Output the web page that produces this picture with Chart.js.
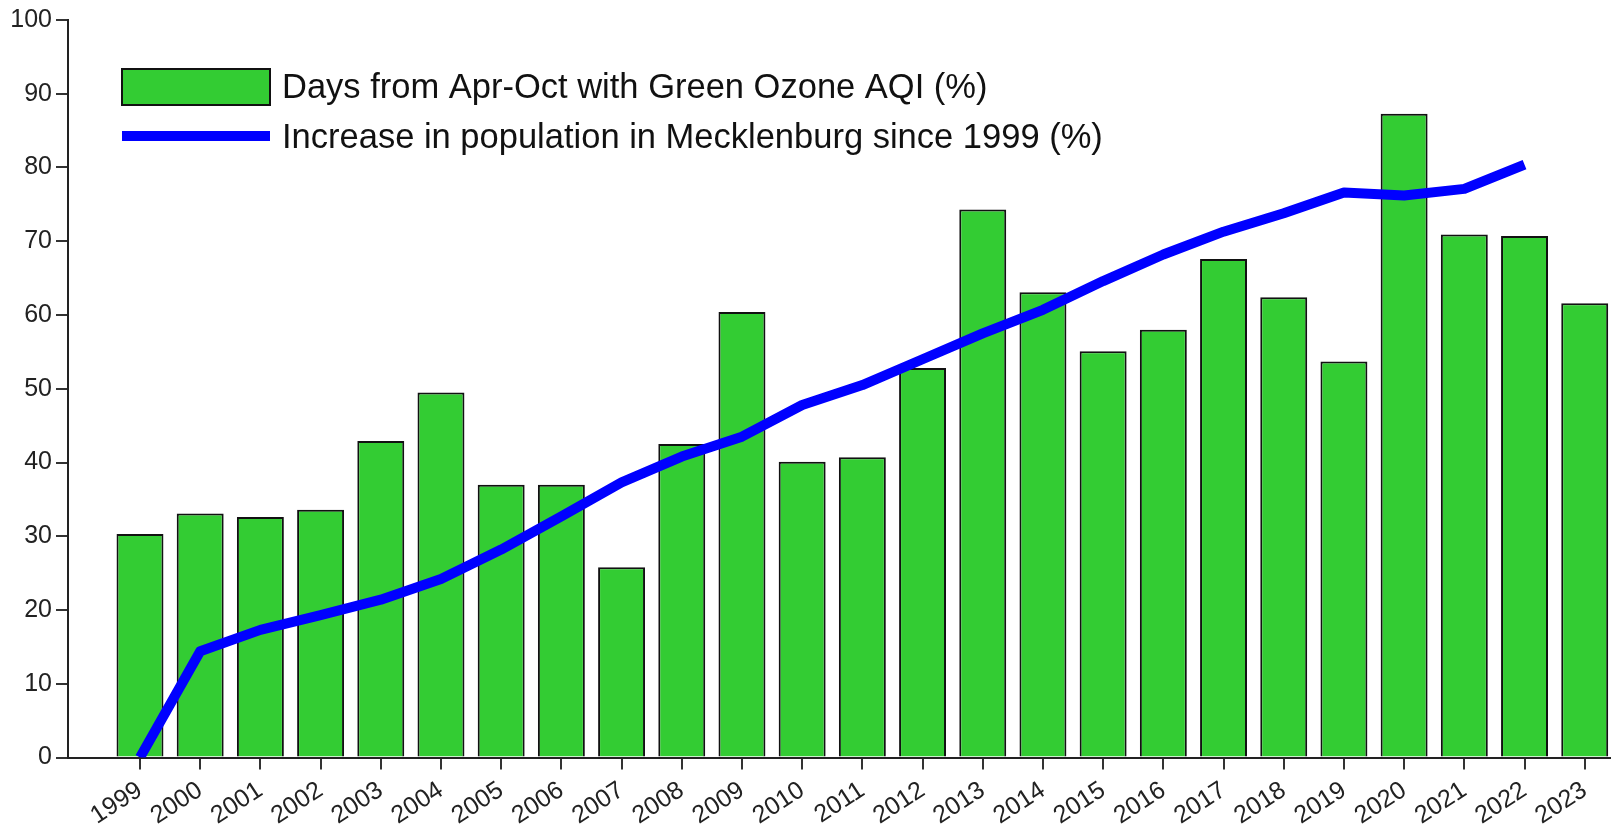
<!doctype html>
<html lang="en">
<head>
  <meta charset="utf-8">
  <title>Green Ozone AQI days vs. Mecklenburg population</title>
  <style>
    html, body { margin: 0; padding: 0; background: #fff; }
    #wrap { width: 1618px; height: 825px; }
  </style>
</head>
<body>
  <div id="wrap"><canvas id="chart"></canvas></div>

  <script src="https://cdn.jsdelivr.net/npm/chart.js"></script>
  <script>
    const years = [1999, 2000, 2001, 2002, 2003, 2004, 2005, 2006, 2007, 2008, 2009, 2010, 2011,
                   2012, 2013, 2014, 2015, 2016, 2017, 2018, 2019, 2020, 2021, 2022, 2023];
    const greenDays = [30.3, 33.1, 32.6, 33.6, 42.9, 49.5, 37.0, 37.0, 25.8, 42.5, 60.4, 40.1, 40.7,
                       52.8, 74.3, 63.1, 55.1, 58.0, 67.6, 62.4, 53.7, 87.3, 70.9, 70.7, 61.6];
    // population series stops at 2022
    const popYears = years.slice(0, 24);
    const popIncrease = [0, 14.4, 17.3, 19.3, 21.4, 24.2, 28.2, 32.7, 37.3, 40.8, 43.5, 47.8, 50.5,
                         54.0, 57.5, 60.7, 64.6, 68.2, 71.3, 73.8, 76.6, 76.2, 77.1, 80.4];
    const yTicks = [0, 10, 20, 30, 40, 50, 60, 70, 80, 90, 100];

    const barLabel = 'Days from Apr-Oct with Green Ozone AQI (%)';
    const lineLabel = 'Increase in population in Mecklenburg since 1999 (%)';

    const FONT = "'Liberation Sans', Arial, sans-serif";

    // legend drawn by hand so it can sit inside the plot like the original
    const legendInPlot = {
      id: 'legendInPlot',
      afterDraw(chart) {
        const ctx = chart.ctx;
        const ds = chart.data.datasets;
        ctx.save();
        ctx.font = '34.5px ' + FONT;
        ctx.textBaseline = 'middle';

        // bar entry
        ctx.fillStyle = ds[1].backgroundColor;
        ctx.fillRect(122, 69, 148, 36);
        ctx.lineWidth = 2;
        ctx.strokeStyle = ds[1].borderColor;
        ctx.strokeRect(122, 69, 148, 36);
        ctx.fillStyle = '#111';
        ctx.fillText(ds[1].label, 282, 88);

        // line entry
        ctx.strokeStyle = ds[0].borderColor;
        ctx.lineWidth = 10;
        ctx.beginPath();
        ctx.moveTo(122, 136);
        ctx.lineTo(270, 136);
        ctx.stroke();
        ctx.fillText(ds[0].label, 282, 138);
        ctx.restore();
      }
    };

    new Chart(document.getElementById('chart'), {
      data: {
        datasets: [{
          type: 'line',
          label: lineLabel,
          data: popYears.map((y, i) => ({ x: y, y: popIncrease[i] })),
          borderColor: '#0000ff',
          borderWidth: 10,
          borderJoinStyle: 'round',
          pointRadius: 0,
          tension: 0,
          order: 0
        }, {
          type: 'bar',
          label: barLabel,
          data: years.map((y, i) => ({ x: y, y: greenDays[i] })),
          backgroundColor: '#33cc33',
          borderColor: '#111',
          borderWidth: 2,
          categoryPercentage: 1,
          barPercentage: 0.78,
          order: 1
        }]
      },
      options: {
        responsive: true,
        maintainAspectRatio: false,
        animation: false,
        layout: { padding: { top: 20, right: 8, left: 0, bottom: 0 } },
        plugins: {
          legend: { display: false },
          tooltip: { enabled: false }
        },
        scales: {
          x: {
            type: 'linear',
            offset: false,
            min: 1997.804,
            max: 2023.42,
            afterBuildTicks: s => { s.ticks = years.map(v => ({ value: v })); },
            afterFit: s => { s.height = 67.5; },
            grid: { offset: false, drawOnChartArea: false, drawTicks: true, tickLength: 12, color: '#333', lineWidth: 2 },
            border: { display: true, color: '#222', width: 2 },
            ticks: {
              autoSkip: false,
              minRotation: 33,
              maxRotation: 33,
              padding: 6,
              color: '#222',
              font: { family: FONT, size: 25 },
              callback: v => String(v)
            }
          },
          y: {
            min: 0,
            max: 100,
            afterBuildTicks: s => { s.ticks = yTicks.map(v => ({ value: v })); },
            afterFit: s => { s.width = 68; },
            grid: { drawOnChartArea: false, drawTicks: true, tickLength: 12, color: '#333', lineWidth: 2 },
            border: { display: true, color: '#222', width: 2 },
            ticks: {
              padding: 4,
              color: '#222',
              font: { family: FONT, size: 25 }
            }
          }
        }
      },
      plugins: [legendInPlot]
    });
  </script>
</body>
</html>
